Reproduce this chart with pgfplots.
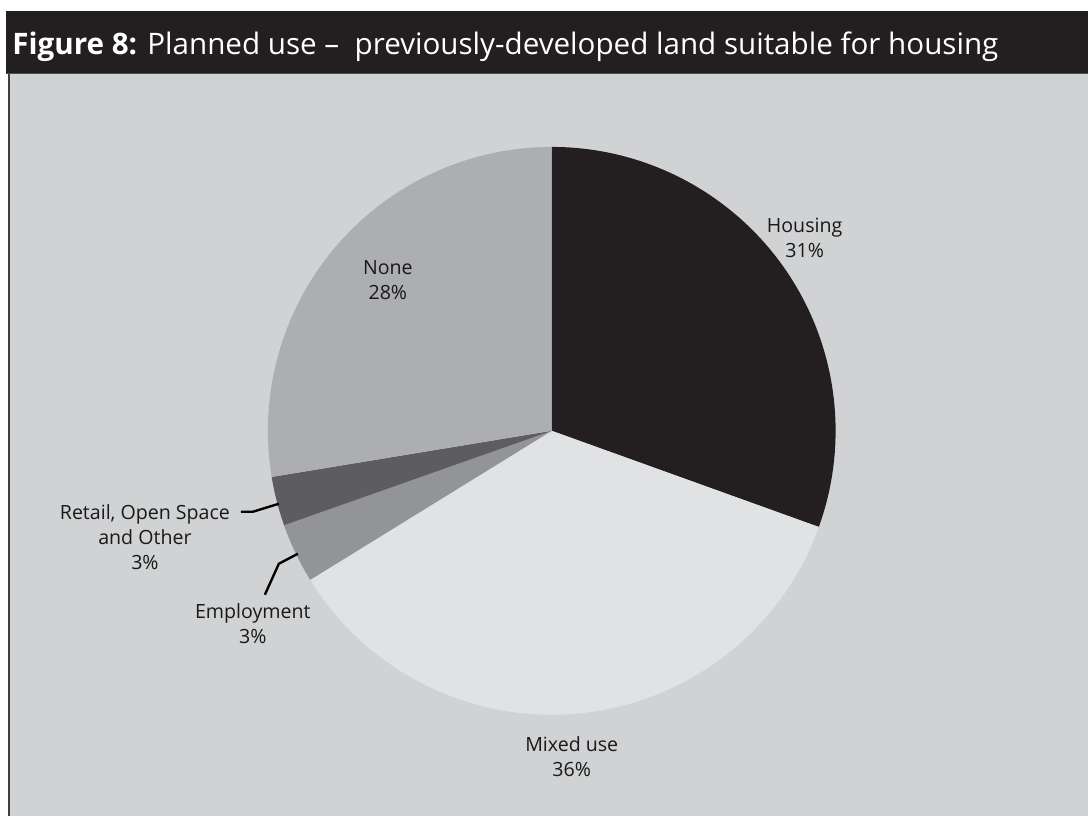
\documentclass[border=0pt]{standalone}
\usepackage{fontspec}
\setmainfont{Open Sans}
\usepackage{pgfplots}
\usepackage{pgfplotstable}
\pgfplotsset{compat=1.18}
\definecolor{panelc}{HTML}{D1D2D4}
\definecolor{barc}{HTML}{231F20}
\definecolor{housingc}{HTML}{231F20}
\definecolor{mixedc}{HTML}{E1E2E3}
\definecolor{employc}{HTML}{939497}
\definecolor{retailc}{HTML}{5D5D5F}
\definecolor{nonec}{HTML}{ADAEB1}
\pgfplotstableread{
value colour
30.5 housingc
35.7 mixedc
3.4 employc
2.8 retailc
27.6 nonec
}\piedata
\begin{document}
\begin{tikzpicture}[x=1pt,y=1pt]
\fill[white] (0,0) rectangle (544,408);
\fill[panelc] (4,0) rectangle (544,371);
\fill[barc] (3,371) rectangle (544,402.5);
\draw[gray!60!black, line width=0.5pt] (3,371) -- (544,371);
\draw[gray!50!black, line width=1pt] (4.5,0) -- (4.5,371);
\node[anchor=base west, text=white, font=\fontsize{14.8}{18}\selectfont, inner sep=0pt] at (6,380.5)
  {\textbf{Figure 8:} Planned use --\ \ previously-developed land suitable for housing};
\begin{axis}[at={(276,192.5)}, anchor=origin, x=1pt, y=1pt, hide axis,
  xmin=-142, xmax=142, ymin=-142, ymax=142, clip=false, disabledatascaling]
\pgfplotstablegetrowsof{\piedata}
\pgfmathtruncatemacro\lastrow{\pgfplotsretval-1}
\xdef\startang{90}
\foreach \i in {0,...,\lastrow}{
  \pgfplotstablegetelem{\i}{value}\of\piedata \let\val\pgfplotsretval
  \pgfplotstablegetelem{\i}{colour}\of\piedata \let\col\pgfplotsretval
  \pgfmathsetmacro\endang{\startang-3.6*\val}
  \edef\slice{\noexpand\fill[\col] (axis cs:0,0) -- (axis cs:{142*cos(\startang)},{142*sin(\startang)}) arc[start angle=\startang, end angle=\endang, radius=142pt] -- cycle;}
  \slice
  \xdef\startang{\endang}
}
\tikzset{lab/.style={align=center, font=\fontsize{9.8}{12.5}\selectfont, text=black!90, inner sep=0pt}}
\node[lab] at (axis cs:126.5,96.5) {Housing\\31\%};
\node[lab] at (axis cs:-82,75.5) {None\\28\%};
\node[lab] at (axis cs:10,-163) {Mixed use\\36\%};
\node[lab] at (axis cs:-149.5,-96.5) {Employment\\3\%};
\node[lab] at (axis cs:-203.5,-53) {Retail, Open Space\\and Other\\3\%};
\draw[line width=1.2pt, black] (axis cs:-155.5,-40.5) -- (axis cs:-149.5,-40.5) -- (axis cs:-136.5,-36.5);
\draw[line width=1.2pt, black] (axis cs:-143.5,-82) -- (axis cs:-136.5,-66.5) -- (axis cs:-127,-61.5);
\end{axis}
\end{tikzpicture}
\end{document}
